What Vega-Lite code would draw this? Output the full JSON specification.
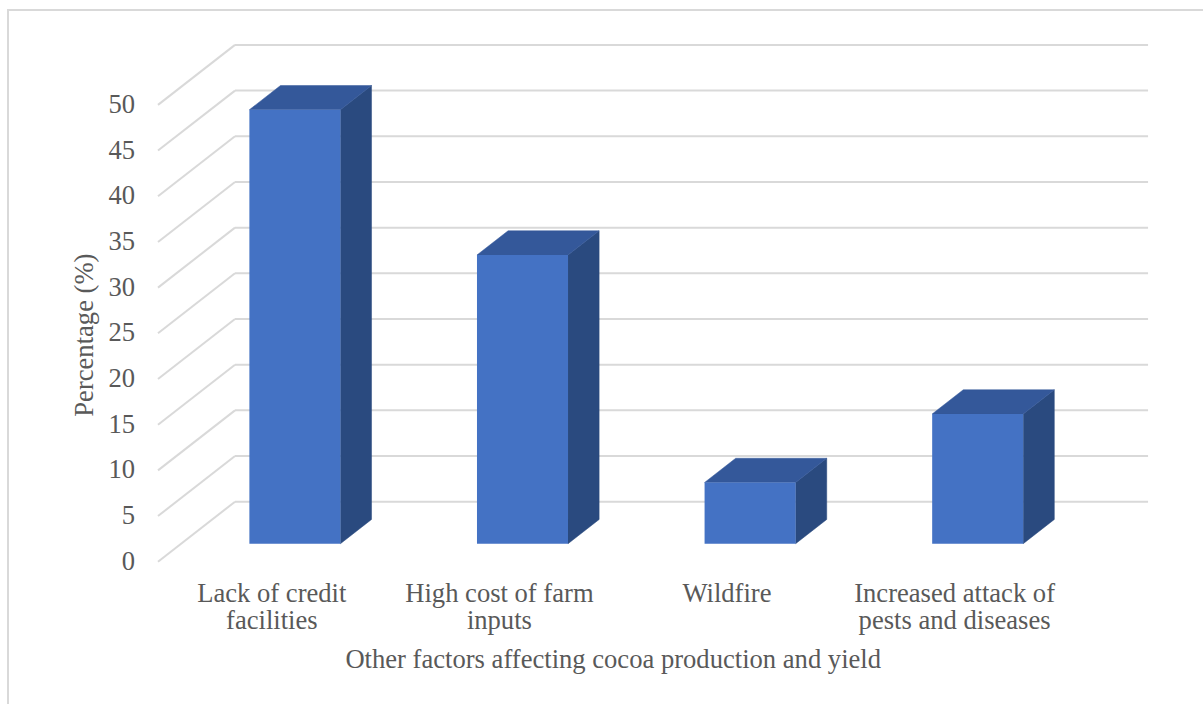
{
  "$schema": "https://vega.github.io/schema/vega-lite/v6.json",
  "width": 1199,
  "height": 698,
  "autosize": {"type": "none"},
  "padding": {"left": 8, "top": 10, "right": -4, "bottom": -4},
  "background": "white",
  "config": {
    "view": {"stroke": "#d9d9d9", "strokeWidth": 2},
    "text": {"font": "Liberation Serif", "fontSize": 26.6, "color": "#595959"}
  },
  "params": [
    {"name": "depthX", "value": 0.3383},
    {"name": "depthY", "value": 6.567},
    {"name": "wallEnd", "value": 4.35},
    {"name": "tFront", "value": 0.30},
    {"name": "tBack", "value": 0.704},
    {"name": "halfBar", "value": 0.2}
  ],
  "datasets": {
    "factors": [
      {"factor": "Lack of credit facilities", "label": "Lack of credit\nfacilities", "percent": 47.5},
      {"factor": "High cost of farm inputs", "label": "High cost of farm\ninputs", "percent": 31.6},
      {"factor": "Wildfire", "label": "Wildfire", "percent": 6.7},
      {"factor": "Increased attack of pests and diseases", "label": "Increased attack of\npests and diseases", "percent": 14.2}
    ],
    "ticks": [
      {"tick": 0}, {"tick": 5}, {"tick": 10}, {"tick": 15}, {"tick": 20}, {"tick": 25},
      {"tick": 30}, {"tick": 35}, {"tick": 40}, {"tick": 45}, {"tick": 50}
    ],
    "titles": [{}]
  },
  "layer": [
    {
      "description": "Back-wall gridlines",
      "data": {"name": "ticks"},
      "transform": [
        {"calculate": "depthX", "as": "xa"},
        {"calculate": "wallEnd", "as": "xb"},
        {"calculate": "datum.tick + depthY", "as": "yw"}
      ],
      "mark": {"type": "rule", "color": "#d9d9d9", "strokeWidth": 2},
      "encoding": {
        "x": {"field": "xa", "type": "quantitative", "axis": null,
              "scale": {"domain": [-0.6591, 4.609], "zero": false, "nice": false}},
        "x2": {"field": "xb"},
        "y": {"field": "yw", "type": "quantitative", "axis": null,
              "scale": {"domain": [-16.013, 60.388], "zero": false, "nice": false}}
      }
    },
    {
      "description": "Side-wall gridlines running from the value labels to the back wall",
      "data": {"name": "ticks"},
      "transform": [
        {"calculate": "0", "as": "xa"},
        {"calculate": "depthX", "as": "xb"},
        {"calculate": "datum.tick + depthY", "as": "yw"}
      ],
      "mark": {"type": "rule", "color": "#d9d9d9", "strokeWidth": 2},
      "encoding": {
        "x": {"field": "xa", "type": "quantitative", "axis": null},
        "x2": {"field": "xb"},
        "y": {"field": "tick", "type": "quantitative", "axis": null},
        "y2": {"field": "yw"}
      }
    },
    {
      "description": "Value labels",
      "data": {"name": "ticks"},
      "mark": {"type": "text", "align": "right", "baseline": "middle",
               "font": "Liberation Serif", "fontSize": 26.6, "color": "#595959"},
      "encoding": {
        "x": {"datum": -0.101, "type": "quantitative", "axis": null},
        "y": {"field": "tick", "type": "quantitative", "axis": null},
        "text": {"field": "tick", "type": "quantitative"}
      }
    },
    {
      "description": "Right-hand faces of the columns",
      "data": {"name": "factors"},
      "transform": [
        {"window": [{"op": "row_number", "as": "rank"}]},
        {"calculate": "tFront", "as": "front"},
        {"calculate": "tBack", "as": "back"},
        {"fold": ["front", "back"], "as": ["face", "t"]},
        {"calculate": "datum.rank - 1 + 0.5 + halfBar + depthX * datum.t", "as": "xs"},
        {"calculate": "depthY * datum.t", "as": "ylo"},
        {"calculate": "datum.percent + depthY * datum.t", "as": "yhi"}
      ],
      "mark": {"type": "area", "orient": "vertical", "color": "#2A4A7F", "stroke": "#2A4A7F", "strokeWidth": 0.5},
      "encoding": {
        "x": {"field": "xs", "type": "quantitative", "axis": null},
        "y": {"field": "ylo", "type": "quantitative", "axis": null},
        "y2": {"field": "yhi"},
        "detail": {"field": "factor"}
      }
    },
    {
      "description": "Top faces of the columns",
      "data": {"name": "factors"},
      "transform": [
        {"window": [{"op": "row_number", "as": "rank"}]},
        {"calculate": "tFront", "as": "front"},
        {"calculate": "tBack", "as": "back"},
        {"fold": ["front", "back"], "as": ["face", "t"]},
        {"calculate": "datum.rank - 1 + 0.5 - halfBar + depthX * datum.t", "as": "xl"},
        {"calculate": "datum.rank - 1 + 0.5 + halfBar + depthX * datum.t", "as": "xr"},
        {"calculate": "datum.percent + depthY * datum.t", "as": "yt"}
      ],
      "mark": {"type": "area", "orient": "horizontal", "color": "#34589A", "stroke": "#34589A", "strokeWidth": 0.5},
      "encoding": {
        "y": {"field": "yt", "type": "quantitative", "axis": null},
        "x": {"field": "xl", "type": "quantitative", "axis": null},
        "x2": {"field": "xr"},
        "detail": {"field": "factor"}
      }
    },
    {
      "description": "Front faces of the columns",
      "data": {"name": "factors"},
      "transform": [
        {"window": [{"op": "row_number", "as": "rank"}]},
        {"calculate": "datum.rank - 1 + 0.5 - halfBar + depthX * tFront", "as": "xl"},
        {"calculate": "datum.rank - 1 + 0.5 + halfBar + depthX * tFront", "as": "xr"},
        {"calculate": "depthY * tFront", "as": "ylo"},
        {"calculate": "datum.percent + depthY * tFront", "as": "yhi"}
      ],
      "mark": {"type": "rect", "color": "#4472C4"},
      "encoding": {
        "x": {"field": "xl", "type": "quantitative", "axis": null},
        "x2": {"field": "xr"},
        "y": {"field": "ylo", "type": "quantitative", "axis": null},
        "y2": {"field": "yhi"},
        "tooltip": [{"field": "factor"}, {"field": "percent", "type": "quantitative"}]
      }
    },
    {
      "description": "Category labels",
      "data": {"name": "factors"},
      "transform": [
        {"window": [{"op": "row_number", "as": "rank"}]},
        {"calculate": "datum.rank - 0.5", "as": "xc"}
      ],
      "mark": {"type": "text", "align": "center", "baseline": "alphabetic", "lineBreak": "\n", "lineHeight": 27.6,
               "font": "Liberation Serif", "fontSize": 26.6, "color": "#595959"},
      "encoding": {
        "x": {"field": "xc", "type": "quantitative", "axis": null},
        "y": {"datum": -4.4, "type": "quantitative", "axis": null},
        "text": {"field": "label"}
      }
    },
    {
      "description": "Category axis title",
      "data": {"name": "titles"},
      "mark": {"type": "text", "align": "center", "baseline": "alphabetic",
               "font": "Liberation Serif", "fontSize": 26.6, "color": "#595959",
               "text": "Other factors affecting cocoa production and yield"},
      "encoding": {
        "x": {"datum": 2.0, "type": "quantitative", "axis": null},
        "y": {"datum": -11.6, "type": "quantitative", "axis": null}
      }
    },
    {
      "description": "Value axis title",
      "data": {"name": "titles"},
      "mark": {"type": "text", "align": "center", "baseline": "middle", "angle": 270,
               "font": "Liberation Serif", "fontSize": 26.6, "color": "#595959",
               "text": "Percentage (%)"},
      "encoding": {
        "x": {"datum": -0.3207, "type": "quantitative", "axis": null},
        "y": {"datum": 24.8, "type": "quantitative", "axis": null}
      }
    }
  ]
}
